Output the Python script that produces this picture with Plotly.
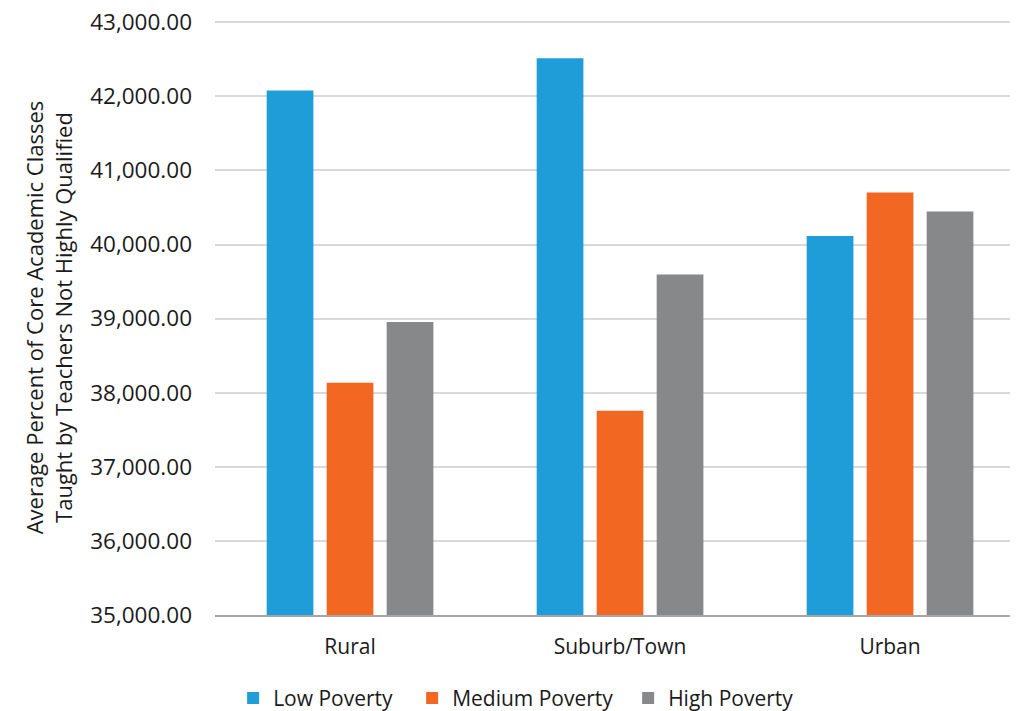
import plotly.graph_objects as go

categories = ["Rural", "Suburb/Town", "Urban"]
series_names = ["Low Poverty", "Medium Poverty", "High Poverty"]
low_poverty = [42077, 42513, 40116]
medium_poverty = [38135, 37757, 40702]
high_poverty = [38955, 39595, 40445]
colors = ["#1E9DD8", "#F26722", "#87888A"]
offsets = [-0.3086, -0.0864, 0.1358]
bar_width = 0.173
legend_widths = [134, 171, None]
y_ticks = [35000, 36000, 37000, 38000, 39000, 40000, 41000, 42000, 43000]

FONT = "Open Sans, sans-serif"
fig = go.Figure()
for name, vals, col, off, lw in zip(series_names, [low_poverty, medium_poverty, high_poverty],
                                    colors, offsets, legend_widths):
    kw = {} if lw is None else {"legendwidth": lw}
    fig.add_trace(go.Bar(
        x=categories, y=vals, name=name,
        marker=dict(color=col, line=dict(width=0)),
        width=bar_width, offset=off, **kw,
    ))

fig.update_layout(
    width=1010, height=703,
    margin=dict(l=207, r=0, t=12, b=96, autoexpand=False),
    paper_bgcolor="white", plot_bgcolor="white",
    barmode="overlay",
    font=dict(family=FONT, size=21, color="#1a1a1a"),
    showlegend=True,
    legend=dict(orientation="h", x=0.375, xanchor="center", y=-0.14, yanchor="middle",
                font=dict(size=21, color="#1a1a1a"), itemwidth=30,
                traceorder="normal", tracegroupgap=0),
)
fig.update_xaxes(
    range=[-0.5, 2.474], showgrid=False, showline=True, linecolor="#A6A6A6",
    linewidth=2, ticks="", tickfont=dict(size=21), ticklabelstandoff=12,
    automargin=False,
)
fig.update_yaxes(
    range=[35000, 43030], tickvals=y_ticks, tickformat=",.2f",
    ticklabeloverflow="allow",
    showgrid=True, gridcolor="#D9D9D9", gridwidth=2, zeroline=False,
    showline=False, ticks="", ticklabelstandoff=22, automargin=False,
    tickfont=dict(size=22.5),
    title=dict(text="Average Percent of Core Academic Classes<br>Taught by Teachers Not Highly Qualified",
               font=dict(size=22), standoff=11),
)
fig.write_html("out.html")
